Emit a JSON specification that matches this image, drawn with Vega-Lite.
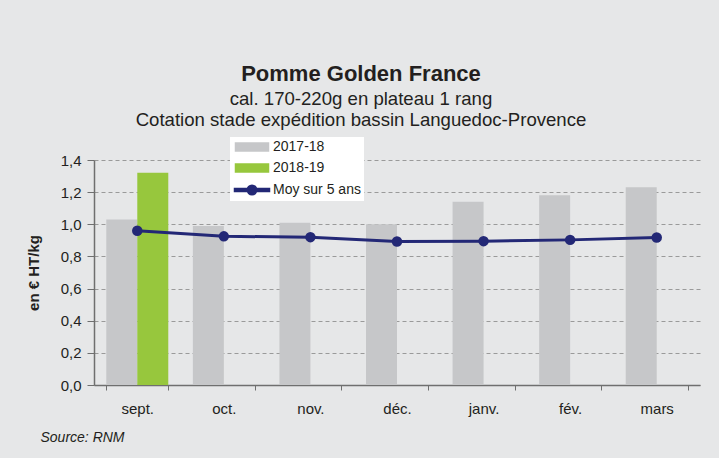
{
  "$schema": "https://vega.github.io/schema/vega-lite/v6.json",
  "width": 606,
  "height": 225,
  "autosize": {"type": "none"},
  "padding": {"left": 94, "top": 160, "right": 19, "bottom": 73},
  "background": "#e6e7e8",
  "config": {
    "locale": {"number": {"decimal": ",", "thousands": " ", "grouping": [3], "currency": ["", " €"]}},
    "view": {"stroke": null},
    "font": "Liberation Sans"
  },
  "title": {
    "text": "Pomme Golden France",
    "subtitle": ["cal. 170-220g en plateau 1 rang", "Cotation stade expédition bassin Languedoc-Provence"],
    "anchor": "middle",
    "frame": "group",
    "dx": -36,
    "offset": 6,
    "font": "Liberation Sans",
    "fontSize": 22,
    "fontWeight": "bold",
    "color": "#231f20",
    "subtitleFont": "Liberation Sans",
    "subtitleFontSize": 18.6,
    "subtitleColor": "#231f20",
    "subtitleLineHeight": 21,
    "subtitlePadding": 4
  },
  "data": {
    "values": [
      {"month": "sept.", "serie": "2017-18", "value": 1.03},
      {"month": "sept.", "serie": "2018-19", "value": 1.32},
      {"month": "sept.", "serie": "Moy sur 5 ans", "value": 0.96},
      {"month": "oct.", "serie": "2017-18", "value": 0.99},
      {"month": "oct.", "serie": "Moy sur 5 ans", "value": 0.925},
      {"month": "nov.", "serie": "2017-18", "value": 1.01},
      {"month": "nov.", "serie": "Moy sur 5 ans", "value": 0.92},
      {"month": "déc.", "serie": "2017-18", "value": 1.0},
      {"month": "déc.", "serie": "Moy sur 5 ans", "value": 0.893},
      {"month": "janv.", "serie": "2017-18", "value": 1.14},
      {"month": "janv.", "serie": "Moy sur 5 ans", "value": 0.895},
      {"month": "fév.", "serie": "2017-18", "value": 1.18},
      {"month": "fév.", "serie": "Moy sur 5 ans", "value": 0.903},
      {"month": "mars", "serie": "2017-18", "value": 1.23},
      {"month": "mars", "serie": "Moy sur 5 ans", "value": 0.918}
    ]
  },
  "encoding": {
    "x": {
      "field": "month",
      "type": "nominal",
      "sort": ["sept.", "oct.", "nov.", "déc.", "janv.", "fév.", "mars"],
      "scale": {"paddingInner": 0.284, "paddingOuter": 0.142},
      "axis": {
        "labelAngle": 0,
        "labelFont": "Liberation Sans",
        "labelFontSize": 15,
        "labelColor": "#231f20",
        "labelPadding": 11,
        "tickBand": "extent",
        "tickSize": 5,
        "tickColor": "#6f6f6f",
        "domainColor": "#6f6f6f",
        "domainWidth": 1.5,
        "grid": false,
        "title": "Source: RNM",
        "titleFont": "Liberation Sans",
        "titleFontSize": 14,
        "titleFontStyle": "italic",
        "titleFontWeight": "normal",
        "titleColor": "#231f20",
        "titleAnchor": "start",
        "titleAlign": "left",
        "titleBaseline": "alphabetic",
        "titleX": -54,
        "titleY": 56
      }
    },
    "y": {
      "field": "value",
      "type": "quantitative",
      "scale": {"domain": [0, 1.4], "nice": false},
      "axis": {
        "values": [0, 0.2, 0.4, 0.6, 0.8, 1.0, 1.2, 1.4],
        "format": ".1f",
        "labelOverlap": false,
        "labelFont": "Liberation Sans",
        "labelFontSize": 15,
        "labelColor": "#231f20",
        "labelPadding": 6,
        "tickSize": 7,
        "tickColor": "#6f6f6f",
        "domainColor": "#6f6f6f",
        "domainWidth": 1.5,
        "grid": true,
        "gridColor": "#9a9a9a",
        "gridDash": [4, 3],
        "gridWidth": 1,
        "title": "en € HT/kg",
        "titleFont": "Liberation Sans",
        "titleFontSize": 15,
        "titleFontWeight": "bold",
        "titleColor": "#231f20",
        "titlePadding": 19
      }
    },
    "color": {
      "field": "serie",
      "type": "nominal",
      "scale": {"domain": ["2017-18", "2018-19", "Moy sur 5 ans"], "range": ["#c6c7c9", "#97c73d", "#232876"]},
      "legend": {
        "title": null,
        "orient": "none",
        "legendX": 136,
        "legendY": -23,
        "fillColor": "white",
        "padding": 3,
        "symbolSize": 100,
        "symbolOffset": 12,
        "labelOffset": 14,
        "labelFont": "Liberation Sans",
        "labelFontSize": 14,
        "labelColor": "#231f20",
        "rowPadding": 7,
        "encode": {
          "symbols": {
            "update": {
              "shape": {"signal": "datum.value === 'Moy sur 5 ans' ? 'M-3.5,-0.3H3.5V0.3H-3.5Z M-0.95,0A0.95,0.95 0 1,1 0.95,0A0.95,0.95 0 1,1 -0.95,0Z' : 'M-3.3,-0.8H3.3V0.8H-3.3Z'"},
              "fill": {"scale": "color", "field": "value"},
              "stroke": {"value": "transparent"},
              "opacity": {"value": 1}
            }
          }
        }
      }
    }
  },
  "layer": [
    {
      "transform": [{"filter": "datum.serie !== 'Moy sur 5 ans'"}],
      "mark": {"type": "bar"},
      "encoding": {
        "xOffset": {"field": "serie", "type": "nominal", "scale": {"domain": ["2017-18", "2018-19"], "paddingInner": 0, "paddingOuter": 0}}
      }
    },
    {
      "transform": [{"filter": "datum.serie === 'Moy sur 5 ans'"}],
      "mark": {"type": "line", "strokeWidth": 3, "point": {"filled": true, "size": 110, "opacity": 1}}
    }
  ]
}
